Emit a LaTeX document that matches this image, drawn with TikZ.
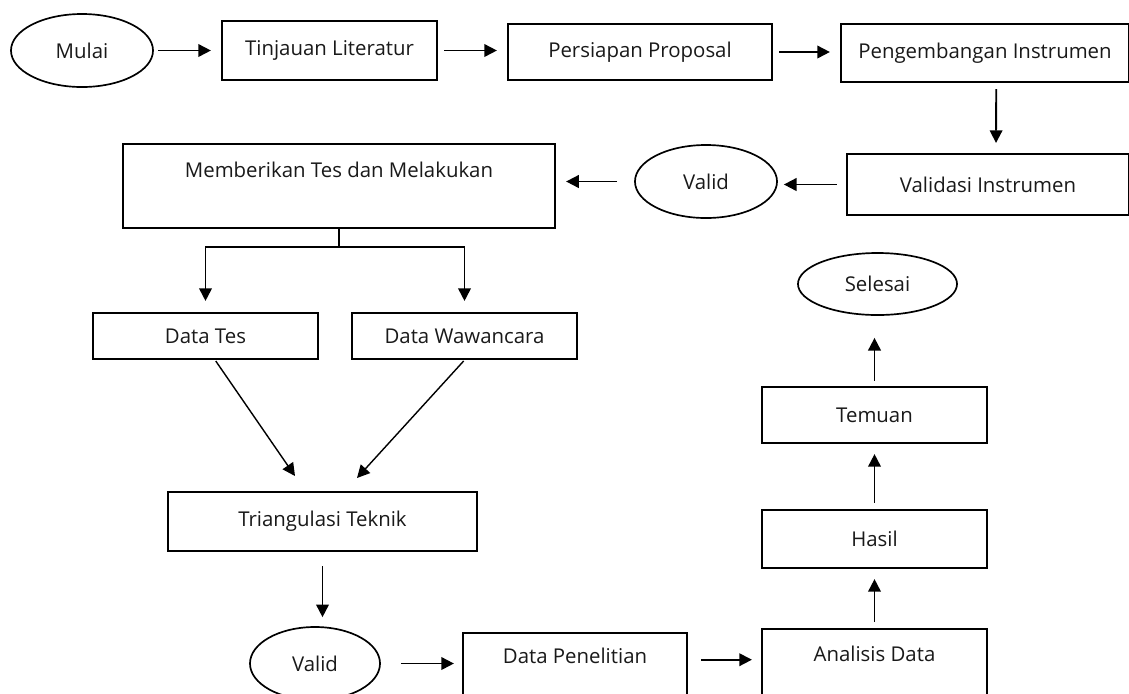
\documentclass[tikz,border=0pt]{standalone}
\usepackage{fontspec}
\setmainfont{Open Sans}
\usetikzlibrary{shapes, arrows.meta}

\begin{document}
\begin{tikzpicture}[x=0.025cm, y=-0.025cm,
        every node/.style={font=\fontsize{14.5pt}{17pt}\selectfont, text=black!90},
        box/.style={draw, rectangle, line width=1.5pt, inner sep=0.1cm},
        oval/.style={draw, ellipse, line width=1.2pt, inner sep=0pt},
        arr/.style={-{Triangle[length=9pt, width=9pt]}, line width=1.3pt, shorten <=0.15cm, shorten >=0.25cm}]

        \useasboundingbox (0, 0) rectangle (1129, 693);
        \clip (0, 0) rectangle (1129, 693);

        % top row
        \node[oval, minimum width=3.55cm, minimum height=1.825cm] (mulai) at (82, 50.5) {Mulai};
        \node[box, minimum width=5.375cm, minimum height=1.475cm] (tinjau) at (329.5, 50.5) {Tinjauan Literatur};
        \node[box, minimum width=6.6cm, minimum height=1.4cm] (proposal) at (640, 52) {Persiapan Proposal};
        \node[box, minimum width=7.2cm, minimum height=1.45cm] (kembang) at (985, 53) {Pengembangan Instrumen};

        % second row
        \node[box, minimum width=7.05cm, minimum height=1.525cm] (validasi) at (988, 184.5) {Validasi Instrumen};
        \node[oval, minimum width=3.55cm, minimum height=1.825cm] (valida) at (706, 181.5) {Valid};
        \node[box, anchor=north, minimum width=10.8cm, text height=0.725cm, text depth=1.175cm] (tes) at (339, 143) {Memberikan Tes dan Melakukan};

        \node[box, minimum width=5.625cm, minimum height=1.15cm] (dtes) at (205.5, 336) {Data Tes};
        \node[box, minimum width=5.625cm, minimum height=1.15cm] (dwaw) at (464.5, 336) {Data Wawancara};
        \node[box, minimum width=7.725cm, minimum height=1.475cm] (tri) at (322.5, 521.5) {Triangulasi Teknik};

        % bottom row
        \node[oval, minimum width=3.25cm, minimum height=1.825cm] (validb) at (315, 663.5) {Valid};
        \node[box, anchor=north, minimum width=5.6cm, text height=0.66cm, text depth=1.2cm] (dpen) at (575, 632) {Data Penelitian};
        \node[box, anchor=north, minimum width=5.625cm, text height=0.71cm, text depth=1.2cm] (analisis) at (874.5, 628) {Analisis Data};

        % right column
        \node[box, minimum width=5.625cm, minimum height=1.45cm] (hasil) at (874.5, 539) {Hasil};
        \node[box, minimum width=5.625cm, minimum height=1.4cm] (temuan) at (874.5, 415) {Temuan};
        \node[oval, minimum width=3.975cm, minimum height=1.55cm] (selesai) at (877.5, 284) {Selesai};

        \draw[arr, shorten <=0.1cm] (mulai.east) -- (mulai.east -| tinjau.west);
        \draw[arr] (tinjau.east) -- (tinjau.east -| proposal.west);
        \draw[arr] (proposal.east) -- (proposal.east -| kembang.west);
        \draw[arr] ([xshift=0.28cm]kembang.south) -- ([xshift=0.2cm]validasi.north);
        \draw[arr, shorten <=0.225cm, shorten >=0.15cm] (validasi.west) -- (validasi.west -| valida.east);
        \draw[arr, shorten <=0.425cm] (valida.west) -- (valida.west -| tes.east);

        \coordinate (split) at (339, 247);
        \draw[arr, shorten <=0pt, shorten >=0.275cm] (tes.south) -- (split) -| (dtes.north);
        \draw[arr, shorten <=0pt, shorten >=0.275cm] (split) -| (dwaw.north);

        \coordinate (tril) at (295, 476);
        \coordinate (trir) at (357, 478);
        \draw[arr, line width=1pt, shorten <=0.03cm, shorten >=0pt] ([xshift=0.24cm]dtes.south) -- (tril);
        \draw[arr, line width=1pt, shorten <=0.03cm, shorten >=0pt] (dwaw.south) -- (trir);

        \draw[arr, shorten <=0.35cm, shorten >=0.225cm] (tri.south) -- (tri.south |- validb.north);
        \draw[arr, shorten <=0.5cm, shorten >=0.2cm] (validb.east) -- (validb.east -| dpen.west);
        \draw[arr, shorten <=0.325cm, shorten >=0.225cm] (dpen.mid east) -- (dpen.mid east -| analisis.west);

        \draw[arr] (analisis.north) -- (hasil.south);
        \draw[arr] (hasil.north) -- (temuan.south);
        \draw[arr, shorten <=0.125cm, shorten >=0.55cm] (temuan.north) -- (temuan.north |- selesai.south);

    \end{tikzpicture}
\end{document}
